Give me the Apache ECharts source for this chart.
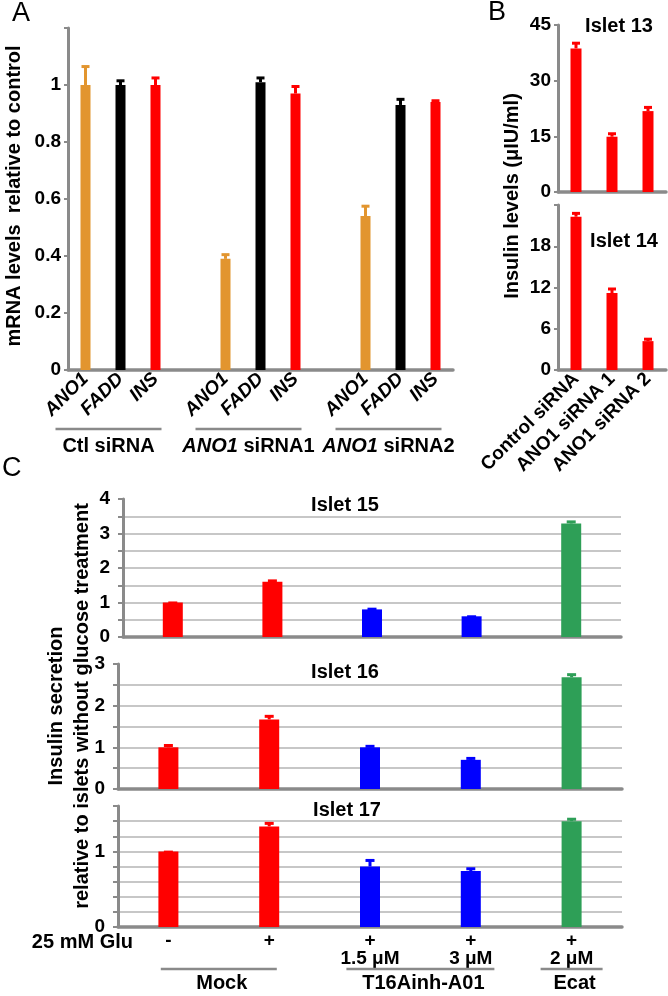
<!DOCTYPE html>
<html>
<head>
<meta charset="utf-8">
<script src="https://cdn.jsdelivr.net/npm/echarts@6/dist/echarts.min.js"></script>
<style>
  html, body { margin: 0; padding: 0; background: #fff; }
  #main { width: 668px; height: 996px; }
</style>
</head>
<body>
<div id="main"></div>
<script>
// ---- panel A : mRNA levels relative to control
const groupsA = ['Ctl siRNA', 'ANO1 siRNA1', 'ANO1 siRNA2'];
const genesA = ['ANO1', 'FADD', 'INS'];
const ano1Mean = [1.0, 0.39, 0.54];
const ano1Err = [0.07, 0.02, 0.04];
const faddMean = [1.0, 1.01, 0.93];
const faddErr = [0.02, 0.02, 0.025];
const insMean = [1.0, 0.97, 0.94];
const insErr = [0.03, 0.03, 0.01];

// ---- panel B : insulin levels
const siRNAB = ['Control siRNA', 'ANO1 siRNA 1', 'ANO1 siRNA 2'];
const islet13 = [38.7, 14.9, 21.8];
const islet13Err = [1.8, 1.2, 1.4];
const islet14 = [22.3, 11.2, 4.2];
const islet14Err = [0.7, 0.8, 0.5];

// ---- panel C : insulin secretion
const glucose = ['-', '+', '+', '+', '+'];
const doses = ['', '', '1.5 μM', '3 μM', '2 μM'];
const treatments = ['Mock', 'T16Ainh-A01', 'Ecat'];
const treatmentSpan = [[0, 1], [2, 3], [4, 4]];
const islet15 = [1.0, 1.6, 0.8, 0.6, 3.29];
const islet15Err = [0.03, 0.07, 0.05, 0.03, 0.09];
const islet16 = [1.0, 1.67, 1.0, 0.7, 2.68];
const islet16Err = [0.08, 0.11, 0.06, 0.07, 0.1];
const islet17 = [1.0, 1.33, 0.8, 0.74, 1.4];
const islet17Err = [0.01, 0.06, 0.1, 0.05, 0.045];

const orange = '#e2952f', black = '#000000', red = '#ff0000', blue = '#0000ff', green = '#2e9f57';
const axisGray = '#8a8a8a';
const gridGray = '#b4b4b4';
const font = 'Liberation Sans, Arial, Helvetica, sans-serif';

// build the 11 slots of panel A (3 genes per group, empty slot between groups)
const geneColor = [orange, black, red];
const meanByGene = [ano1Mean, faddMean, insMean];
const errByGene = [ano1Err, faddErr, insErr];
const catsA = [], barsA = [], errA = [], errColA = [];
groupsA.forEach((g, gi) => {
  if (gi > 0) { catsA.push('gap' + gi); barsA.push('-'); }
  genesA.forEach((gene, k) => {
    catsA.push(gene + '|' + gi);
    const m = meanByGene[k][gi];
    barsA.push({ value: m, itemStyle: { color: geneColor[k] } });
    errA.push([catsA.length - 1, m, m + errByGene[k][gi]]);
    errColA.push(geneColor[k]);
  });
});

const colorsB = [red, red, red];
const colorsC = [red, red, blue, blue, green];
const catsC = glucose.map((g, i) => g + '\n' + doses[i]);

function errSeries(axis, data, colors, capW) {
  return {
    type: 'custom', xAxisIndex: axis, yAxisIndex: axis, z: 3,
    data: data,
    renderItem(params, api) {
      const c = colors[params.dataIndex];
      const base = api.coord([api.value(0), api.value(1)]);
      const top = api.coord([api.value(0), api.value(2)]);
      return {
        type: 'group',
        children: [
          { type: 'line', shape: { x1: base[0], y1: base[1], x2: top[0], y2: top[1] + 1 }, style: { stroke: c, lineWidth: 3 } },
          { type: 'rect', shape: { x: top[0] - capW / 2, y: top[1], width: capW, height: 3 }, style: { fill: c } }
        ]
      };
    }
  };
}

function barSeries(axis, vals, colors, w) {
  return {
    type: 'bar', xAxisIndex: axis, yAxisIndex: axis, barWidth: w,
    data: vals.map((v, i) => ({ value: v, itemStyle: { color: colors[i] } }))
  };
}

const lineStyleAxis = { color: axisGray, width: 3 };
const labelBase = { color: '#000', fontWeight: 'bold', fontSize: 19, fontFamily: font };

function catAxis(grid, data, label) {
  return {
    type: 'category', gridIndex: grid, data: data,
    axisLine: { lineStyle: { color: axisGray, width: 3.5 } },
    axisTick: { show: false },
    axisLabel: label || { show: false }
  };
}

function valAxis(grid, max, interval, fmt, grid2) {
  return {
    type: 'value', gridIndex: grid, min: 0, max: max, interval: interval,
    axisLine: { show: true, lineStyle: lineStyleAxis },
    axisTick: { show: true, length: grid2 ? 5 : 4, lineStyle: { color: axisGray, width: 2 } },
    axisLabel: Object.assign({}, labelBase, { formatter: fmt, margin: grid2 ? 13 : 7 }),
    splitLine: grid2
      ? { show: true, showMaxLine: false, showMinLine: false, lineStyle: { color: gridGray, width: 1.5 } }
      : { show: false }
  };
}

const intOnly = v => (Math.abs(v - Math.round(v)) < 1e-6 ? String(Math.round(v)) : '');

const chart = echarts.init(document.getElementById('main'));

const option = {
  animation: false,
  backgroundColor: '#fff',
  grid: [
    { left: 68, top: 28, width: 385, height: 342 },
    { left: 558, top: 25, width: 108, height: 167 },
    { left: 558, top: 205, width: 108, height: 165 },
    { left: 123, top: 499, width: 498, height: 138 },
    { left: 118, top: 664, width: 504, height: 125 },
    { left: 118, top: 806, width: 504, height: 121 }
  ],
  xAxis: [
    catAxis(0, catsA, Object.assign({}, labelBase, {
      interval: 0, rotate: 45, margin: 6, fontStyle: 'italic',
      formatter: v => (v.indexOf('gap') === 0 ? '' : v.split('|')[0])
    })),
    catAxis(1, siRNAB),
    catAxis(2, siRNAB, Object.assign({}, labelBase, { interval: 0, rotate: 45, margin: 6 })),
    catAxis(3, catsC),
    catAxis(4, catsC),
    catAxis(5, catsC, Object.assign({}, labelBase, { interval: 0, margin: 5, lineHeight: 18 }))
  ],
  yAxis: [
    valAxis(0, 1.2, 0.2, v => (v > 1.1 ? '' : String(+v.toFixed(1)))),
    valAxis(1, 45, 15, v => String(v)),
    valAxis(2, 24, 6, v => (v > 20 ? '' : String(v))),
    valAxis(3, 4, 0.5, intOnly, true),
    valAxis(4, 3, 0.5, intOnly, true),
    valAxis(5, 1.6, 0.2, intOnly, true)
  ],
  series: [
    { type: 'bar', xAxisIndex: 0, yAxisIndex: 0, barWidth: 10, data: barsA },
    errSeries(0, errA, errColA, 8),
    barSeries(1, islet13, colorsB, 11),
    errSeries(1, islet13.map((m, i) => [i, m, m + islet13Err[i]]), colorsB, 8),
    barSeries(2, islet14, colorsB, 11),
    errSeries(2, islet14.map((m, i) => [i, m, m + islet14Err[i]]), colorsB, 8),
    barSeries(3, islet15, colorsC, 20),
    errSeries(3, islet15.map((m, i) => [i, m, m + islet15Err[i]]), colorsC, 9),
    barSeries(4, islet16, colorsC, 20),
    errSeries(4, islet16.map((m, i) => [i, m, m + islet16Err[i]]), colorsC, 9),
    barSeries(5, islet17, colorsC, 20),
    errSeries(5, islet17.map((m, i) => [i, m, m + islet17Err[i]]), colorsC, 9)
  ]
};
chart.setOption(option);

// ---- text, letters and group brackets
function txt(x, y, text, size, opts) {
  return Object.assign({
    type: 'text', x: x, y: y, z: 10,
    style: Object.assign({
      text: text, fill: '#000', fontSize: size, fontWeight: 'bold', fontFamily: font,
      textAlign: 'center', textVerticalAlign: 'middle'
    }, (opts && opts.style) || {})
  }, (opts && opts.el) || {});
}
function hline(x1, x2, y) {
  return { type: 'line', z: 10, shape: { x1: x1, y1: y, x2: x2, y2: y }, style: { stroke: axisGray, lineWidth: 2.5 } };
}
function richLabel(s) {
  return s.indexOf('ANO1') === 0 ? '{i|ANO1}{n|' + s.slice(4) + '}' : '{n|' + s + '}';
}
const rich = {
  i: { fontStyle: 'italic', fontWeight: 'bold', fontSize: 20, fontFamily: font, fill: '#000' },
  n: { fontWeight: 'bold', fontSize: 20, fontFamily: font, fill: '#000' }
};
const rot = { el: { rotation: Math.PI / 2 } };

const g = [];
g.push(txt(12, 14, 'A', 27, { style: { fontWeight: 'normal', textAlign: 'left' } }));
g.push(txt(488, 13, 'B', 27, { style: { fontWeight: 'normal', textAlign: 'left' } }));
g.push(txt(2, 469, 'C', 27, { style: { fontWeight: 'normal', textAlign: 'left' } }));

g.push(txt(14, 196, 'mRNA levels  relative to control', 20, rot));
g.push(txt(512, 196, 'Insulin levels (μIU/ml)', 20, rot));
g.push(txt(56, 706, 'Insulin secretion', 20, rot));
g.push(txt(82, 706, 'relative to islets without glucose treatment', 20, rot));

g.push(txt(619, 26, 'Islet 13', 20));
g.push(txt(624, 241, 'Islet 14', 20));
g.push(txt(345, 505, 'Islet 15', 20));
g.push(txt(345, 672, 'Islet 16', 20));
g.push(txt(347, 810, 'Islet 17', 20));
g.push(txt(133, 942, '25 mM Glu', 20, { style: { textAlign: 'right' } }));

// panel A group brackets
groupsA.forEach((name, gi) => {
  const x0 = chart.convertToPixel({ xAxisIndex: 0 }, genesA[0] + '|' + gi);
  const x1 = chart.convertToPixel({ xAxisIndex: 0 }, genesA[2] + '|' + gi);
  g.push(hline(x0 - 30, x1 + 6, 429));
  g.push({
    type: 'text', z: 10, x: (x0 - 30 + x1 + 6) / 2, y: 446,
    style: { text: richLabel(name), rich: rich, textAlign: 'center', textVerticalAlign: 'middle' }
  });
});

// panel C treatment brackets
const halfW = [58, 74, 31];
treatments.forEach((name, ti) => {
  const a = chart.convertToPixel({ xAxisIndex: 5 }, catsC[treatmentSpan[ti][0]]);
  const b = chart.convertToPixel({ xAxisIndex: 5 }, catsC[treatmentSpan[ti][1]]);
  const c = (a + b) / 2;
  g.push(hline(c - halfW[ti], c + halfW[ti], 969));
  g.push(txt(c + 3, 983, name, 20));
});

chart.setOption({ graphic: g });
</script>
</body>
</html>
